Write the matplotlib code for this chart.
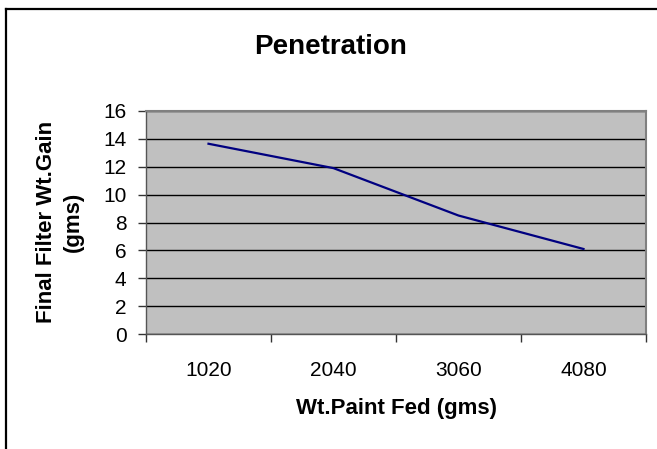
import matplotlib
matplotlib.use("Agg")
import matplotlib.pyplot as plt
from matplotlib.lines import Line2D

plt.rcParams['font.family'] = ['Liberation Sans', 'DejaVu Sans']

# data
paint_fed = ['1020', '2040', '3060', '4080']
filter_gain = [13.65, 11.9, 8.5, 6.1]
y_ticks = [0, 2, 4, 6, 8, 10, 12, 14, 16]

W, H = 657, 449
fig = plt.figure(figsize=(W / 100, H / 100), dpi=100)
ax = fig.add_axes([146 / W, 1 - 334 / H, 500 / W, 223 / H])

x = list(range(1, len(paint_fed) + 1))
ax.plot(x, filter_gain, color='#000080', lw=1.6, zorder=3)

ax.set_facecolor('#C0C0C0')
ax.set_xlim(0.5, len(paint_fed) + 0.5)
ax.set_ylim(0, 16)
ax.set_yticks(y_ticks)
ax.yaxis.grid(True, color='black', lw=1)
ax.set_axisbelow(True)

# category axis: ticks between categories, labels centred on them
ax.set_xticks([i + 0.5 for i in range(len(paint_fed) + 1)])
ax.set_xticklabels([])
ax.set_xticks(x, minor=True)
ax.set_xticklabels(paint_fed, minor=True)
ax.tick_params(axis='x', which='minor', length=0, pad=19.5, labelsize=15)
ax.tick_params(axis='x', which='major', length=6, width=1, color='#333333', direction='out')
ax.tick_params(axis='y', length=6, width=1, color='#333333', direction='out', labelsize=15, pad=8)

for s in ['top', 'right']:
    ax.spines[s].set_color('#808080')
    ax.spines[s].set_linewidth(1.5)
for s in ['left', 'bottom']:
    ax.spines[s].set_color('#555555')
    ax.spines[s].set_linewidth(1)

ax.set_xlabel('Wt.Paint Fed (gms)', fontsize=16, fontweight='bold', labelpad=13)

fig.text(60 / W, 1 - 222 / H, 'Final Filter Wt.Gain\n(gms)', rotation=90,
         ha='center', va='center', multialignment='center',
         fontsize=16, fontweight='bold', linespacing=1.4)

fig.text(331 / W, 1 - 54 / H, 'Penetration', ha='center', va='baseline',
         fontsize=20, fontweight='bold')

# outer chart border (only left and top visible in the crop)
fig.add_artist(Line2D([6 / W, 6 / W], [0, 1 - 9 / H], transform=fig.transFigure, color='black', lw=1.6))
fig.add_artist(Line2D([6 / W, 1], [1 - 9 / H, 1 - 9 / H], transform=fig.transFigure, color='black', lw=1.6))

fig.savefig('out.png', dpi=100)
